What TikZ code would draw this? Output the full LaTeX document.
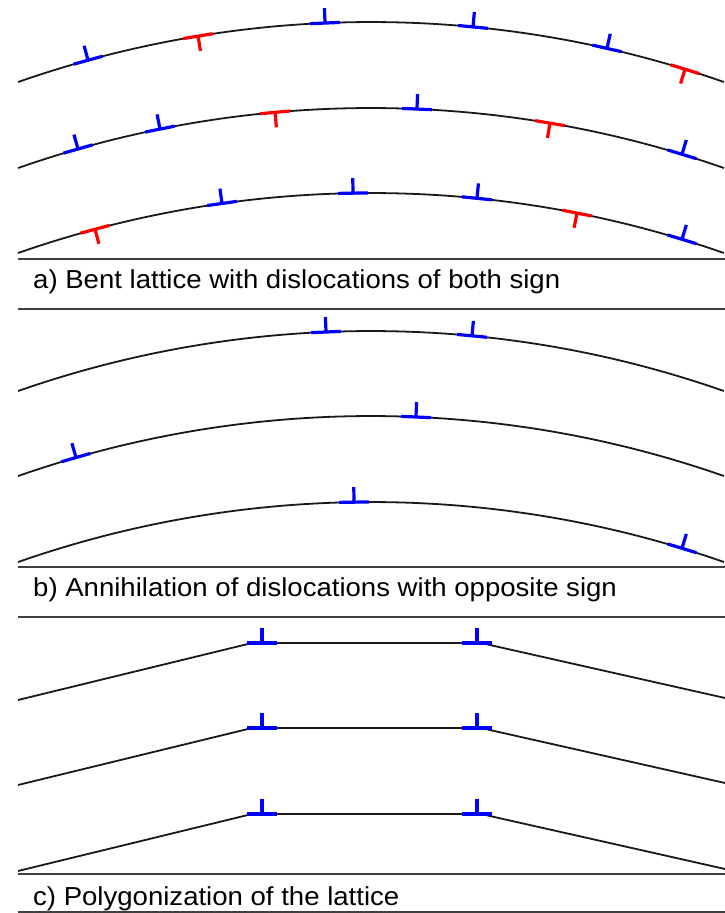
\documentclass[tikz,border=0pt]{standalone}
\usepackage{fontspec}
\setmainfont{Liberation Sans}[FakeStretch=1.06]

% one curved lattice plane: #1 = height of its top, #2 = x/sign of each dislocation
\newcommand\latticeplane[2]{%
    \coordinate (c) at (371,#1-1068);
    \draw[plane] (c) ++(109.3:1068) arc[start angle=109.3, end angle=70.7, radius=1068];
    \foreach \px/\sgn in {#2}{
        \pgfmathsetmacro\ang{90-asin((\px-371)/1068)}
        \path (c) ++(\ang:1068) pic[rotate=\ang-90, \sgn] {disl};
    }%
}

\begin{document}
\begin{tikzpicture}[
        x=1pt, y=1pt,
        plane/.style={draw=black!90, line width=1.8pt},
        frame/.style={draw=black!75, line width=2.2pt},
        caption/.style={anchor=base west, inner sep=0pt, font=\fontsize{26}{30}\selectfont},
        disl/.pic={\draw[line width=3.2pt] (-15,0) -- (15,0) (0,0) -- (0,15);},
        up/.style={blue},
        dn/.style={red, rotate=180},
    ]
    \useasboundingbox (0,0) rectangle (725,913);

    % a) bent lattice
    \latticeplane{891}{88/up, 198/dn, 325/up, 473/up, 607/up, 685/dn}
    \latticeplane{805}{78/up, 160/up, 275/dn, 417/up, 550/dn, 682/up}
    \latticeplane{720}{95/dn, 222/up, 353/up, 477/up, 577/dn, 682/up}
    \draw[frame] (18,654) -- (725,654);
    \node[caption] (capa) at (33,624) {a) Bent lattice with dislocations of both sign};
    \draw[frame] (18,604) -- (725,604);

    % b) after annihilation
    \latticeplane{582}{326/up, 472/up}
    \latticeplane{497}{76/up, 416/up}
    \latticeplane{411}{354/up, 682/up}
    \draw[frame] (18,346) -- (725,346);
    \node[caption] (capb) at (33,316) {b) Annihilation of dislocations with opposite sign};
    \draw[frame] (18,296) -- (725,296);

    % c) polygonized planes
    \foreach \k in {270,185,99}{
        \draw[plane] (18,\k-57) -- (252,\k) -- (481,\k) -- (725,\k-55);
        \path (262,\k) pic[up] {disl};
        \path (477,\k) pic[up] {disl};
    }
    \draw[frame] (18,39) -- (725,39);
    \node[caption] (capc) at (33,8) {c) Polygonization of the lattice};
    \draw[frame] (18,1) -- (725,1);
\end{tikzpicture}
\end{document}
